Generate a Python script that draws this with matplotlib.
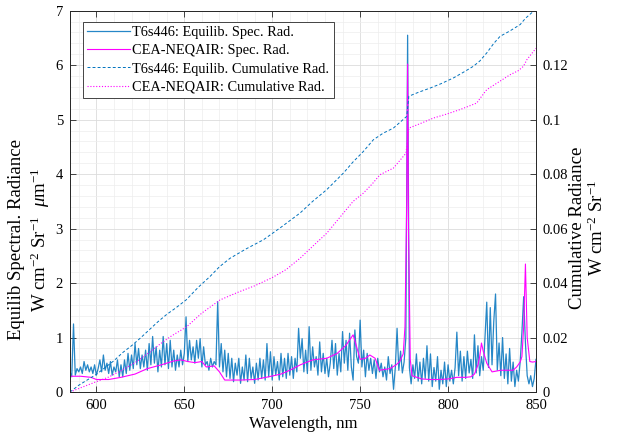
import numpy as np
import matplotlib
matplotlib.use("Agg")
import matplotlib.pyplot as plt
from matplotlib.ticker import MultipleLocator, FormatStrFormatter

plt.rcParams["font.family"] = ["Liberation Serif", "DejaVu Serif"]
plt.rcParams["mathtext.fontset"] = "custom"
plt.rcParams["mathtext.rm"] = "Liberation Serif"
plt.rcParams["mathtext.it"] = "Liberation Serif:italic"
plt.rcParams["font.size"] = 11

# T6s446 equilibrium spectral radiance, 1 nm steps from 585 nm
t6_start = 585
t6_spec = [
    0.37, 0.28, 1.25, 0.31, 0.43, 0.37, 0.46, 0.34, 0.56, 0.40,
    0.50, 0.37, 0.46, 0.34, 0.50, 0.31, 0.43, 0.59, 0.37, 0.68,
    0.40, 0.53, 0.34, 0.56, 0.31, 0.46, 0.37, 0.59, 0.28, 0.50,
    0.28, 0.59, 0.34, 0.71, 0.40, 0.68, 0.43, 0.89, 0.50, 0.80,
    0.43, 0.68, 0.46, 0.77, 0.40, 0.89, 0.50, 1.02, 0.53, 0.83,
    0.37, 0.77, 0.46, 1.02, 0.50, 0.89, 0.43, 0.95, 0.46, 0.77,
    0.40, 0.68, 0.46, 0.77, 0.50, 0.71, 1.38, 0.56, 0.95, 0.59,
    0.83, 0.53, 0.95, 0.62, 0.98, 0.46, 0.83, 0.50, 0.56, 0.40,
    0.62, 0.46, 0.56, 0.50, 1.66, 0.46, 0.89, 0.37, 0.77, 0.28,
    0.71, 0.25, 0.62, 0.19, 0.53, 0.31, 0.62, 0.16, 0.46, 0.22,
    0.68, 0.19, 0.62, 0.25, 0.46, 0.16, 0.53, 0.22, 0.62, 0.25,
    0.59, 0.22, 0.89, 0.28, 0.74, 0.22, 0.65, 0.31, 0.56, 0.22,
    0.71, 0.28, 0.62, 0.25, 0.71, 0.31, 0.65, 0.25, 0.62, 0.37,
    1.17, 0.62, 0.98, 0.37, 0.77, 0.34, 1.20, 0.40, 0.83, 0.46,
    0.65, 0.31, 0.92, 0.37, 0.71, 0.34, 0.62, 0.28, 0.53, 0.95,
    0.43, 0.89, 0.31, 0.71, 0.37, 1.11, 0.53, 0.95, 0.40, 1.08,
    0.46, 0.22, 1.14, 0.65, 0.53, 1.32, 0.46, 0.77, 0.28, 0.71,
    0.40, 0.62, 0.34, 0.59, 0.25, 0.62, 0.37, 0.53, 0.28, 0.46,
    0.22, 0.65, 0.34, 0.50, 0.05, 0.45, 1.17, 0.40, 0.75, 0.35,
    0.55, 1.00, 6.55, 0.45, 0.15, 0.50, 0.25, 0.70, 0.20, 0.55,
    0.15, 0.62, 0.25, 0.85, 0.20, 0.70, 0.10, 0.45, 0.20, 0.65,
    0.05, 0.40, 0.15, 0.55, 0.10, 0.50, 0.20, 0.40, 0.15, 0.45,
    1.10, 0.30, 0.75, 0.20, 0.65, 0.25, 0.75, 0.35, 0.60, 0.25,
    1.05, 0.35, 0.85, 0.30, 0.65, 0.40, 1.00, 1.65, 0.45, 1.55,
    0.50, 1.30, 1.80, 0.40, 0.90, 0.30, 1.00, 0.25, 0.70, 0.15,
    0.80, 0.20, 0.55, 0.10, 0.40, 0.20, 0.55, 1.10, 1.75, 0.90,
    0.30, 0.15, 0.30, 0.10, 0.25, 0.60,
]
t6_nm = t6_start + np.arange(len(t6_spec))

# CEA-NEQAIR spectral radiance
cea_nm = [585, 591, 597, 600, 607, 614, 622, 629, 637, 644, 648, 652, 656, 660,
          662.5, 667, 670, 673, 682, 690, 698, 705, 710, 716, 723, 731, 737, 742,
          746, 748, 750, 753, 755.5, 758.5, 761, 767, 770.5, 772.5, 774.5, 775.5,
          776.5, 777, 777.5, 778.5, 779.5, 785, 790, 795, 800, 805, 810, 813, 815,
          817, 818, 819, 820, 822, 825, 830, 837, 839, 841, 842, 843, 844, 845,
          846.5, 848, 850]
cea_spec = [0.29, 0.29, 0.27, 0.23, 0.23, 0.27, 0.33, 0.43, 0.50, 0.57, 0.59, 0.56,
            0.54, 0.56, 0.46, 0.48, 0.37, 0.22, 0.22, 0.23, 0.28, 0.33, 0.40, 0.50,
            0.59, 0.62, 0.71, 0.86, 1.05, 0.83, 0.60, 0.62, 0.68, 0.62, 0.40, 0.43,
            0.50, 0.56, 0.70, 1.20, 3.50, 6.02, 3.00, 0.60, 0.30, 0.24, 0.23, 0.23,
            0.24, 0.27, 0.27, 0.28, 0.33, 0.50, 0.65, 0.90, 0.75, 0.53, 0.37, 0.40,
            0.40, 0.46, 0.55, 0.65, 1.20, 2.35, 1.00, 0.56, 0.55, 0.56]

# cumulative radiance (right axis)
t6_cum_nm = [585, 590, 595, 600, 605, 610, 615, 620, 625, 630, 635, 640, 645, 651,
             658, 664.6, 670, 676, 685, 695, 705, 715.8, 723, 731, 740.5, 746, 751.8,
             757.5, 763, 768.9, 776.5, 777.7, 783, 789.8, 796, 803, 809, 814.4, 818,
             822, 826, 829.6, 835, 841, 844, 850]
t6_cum = [0, 0.0025, 0.0045, 0.0065, 0.0090, 0.0115, 0.0145, 0.0170, 0.0198, 0.0228,
          0.0258, 0.0285, 0.0308, 0.0338, 0.0385, 0.0424, 0.0460, 0.0491, 0.0525,
          0.0559, 0.0605, 0.0657, 0.0700, 0.0743, 0.0804, 0.0845, 0.0883, 0.0926,
          0.0950, 0.0969, 0.1012, 0.1086, 0.1100, 0.1116, 0.1132, 0.1153, 0.1175,
          0.1196, 0.1215, 0.1245, 0.1280, 0.1306, 0.1325, 0.1349, 0.1372, 0.1406]

cea_cum_nm = [585, 592, 600, 607, 614, 622, 630, 636, 642, 651.4, 660, 670.3, 680,
              690, 700, 708, 715.8, 723, 731, 740.5, 746, 751.8, 757, 761.3, 768.9,
              776.1, 777.7, 784, 791.7, 799, 806.8, 812, 816.3, 819, 822, 828, 835.3,
              840, 842.9, 844.8, 850]
cea_cum = [0, 0.0018, 0.0038, 0.0055, 0.0078, 0.0108, 0.0145, 0.0175, 0.0203, 0.0240,
           0.0290, 0.0338, 0.0365, 0.0390, 0.0420, 0.0450, 0.0491, 0.0535, 0.0583,
           0.0657, 0.0700, 0.0730, 0.0765, 0.0798, 0.0822, 0.0877, 0.0969, 0.0985,
           0.1006, 0.1020, 0.1037, 0.1050, 0.1061, 0.1085, 0.1110, 0.1135, 0.1165,
           0.1180, 0.1196, 0.1220, 0.1262]

blue = "#0072BD"
mag = "#FF00FF"
dark = "#262626"

fig = plt.figure(figsize=(6.21, 4.40), dpi=100)
ax = fig.add_axes([0.1127, 0.109, 0.7504, 0.8667])
ax2 = ax.twinx()

h1, = ax.plot(t6_nm, t6_spec, color=blue, lw=0.9, alpha=0.85,
              label="T6s446: Equilib. Spec. Rad.")
h2, = ax.plot(cea_nm, cea_spec, color=mag, lw=0.8,
              label="CEA-NEQAIR: Spec. Rad.")
h3, = ax2.plot(t6_cum_nm, t6_cum, color=blue, lw=0.7, ls=(0, (3, 2.2)),
               label="T6s446: Equilib. Cumulative Rad.")
h4, = ax2.plot(cea_cum_nm, cea_cum, color=mag, lw=0.8, ls=(0, (1, 1.6)),
               label="CEA-NEQAIR: Cumulative Rad.")

ax.set_xlim(585, 850)
ax.set_ylim(0, 7)
ax2.set_ylim(0, 0.14)
ax.xaxis.set_major_locator(MultipleLocator(50))
ax.xaxis.set_minor_locator(MultipleLocator(10))
ax.yaxis.set_major_locator(MultipleLocator(1))
ax.yaxis.set_minor_locator(MultipleLocator(0.2))
ax2.yaxis.set_major_formatter(FormatStrFormatter("%g"))
ax2.set_yticks([0, 0.02, 0.04, 0.06, 0.08, 0.1, 0.12])

ax.grid(which="major", color="#dcdcdc", lw=0.6)
ax.grid(which="minor", color="#ededed", lw=0.5)
ax.set_axisbelow(True)

for a in (ax, ax2):
    for s in a.spines.values():
        s.set_color(dark)
        s.set_linewidth(0.6)
ax.tick_params(which="major", direction="in", length=4, width=0.6, colors=dark,
               top=True, labelsize=10.5, pad=5)
ax.tick_params(which="minor", length=0)
ax2.tick_params(which="major", direction="in", length=4, width=0.6, colors=dark,
                labelsize=10.5, pad=5)
ax2.tick_params(which="minor", length=0)
for lab in ax.get_xticklabels() + ax.get_yticklabels() + ax2.get_yticklabels():
    lab.set_color("black")

ax.set_xlabel("Wavelength, nm", fontsize=12, labelpad=3)

# axis titles placed at their centres (as in the source figure)
fig.text(30 / 621, 1 - 240 / 440,
         "Equilib Spectral. Radiance\n" r"W cm$^{-2}$ Sr$^{-1}$  $\mu$m$^{-1}$",
         rotation=90, ha="center", va="center", fontsize=13.5, linespacing=1.15,
         multialignment="center")
fig.text(588 / 621, 1 - 228 / 440,
         "Cumulative Radiance\n" r"W cm$^{-2}$ Sr$^{-1}$",
         rotation=90, ha="center", va="center", fontsize=13.5, linespacing=1.15,
         multialignment="center")

leg = ax2.legend(handles=[h1, h2, h3, h4], loc="upper left",
                 bbox_to_anchor=(0.027, 0.971), borderaxespad=0, fancybox=False,
                 framealpha=1, edgecolor=dark, fontsize=10.4, handlelength=3.0,
                 labelspacing=0.35, borderpad=0.3, handletextpad=0.15)
leg.get_frame().set_linewidth(0.6)

fig.savefig("out.png", dpi=100)
